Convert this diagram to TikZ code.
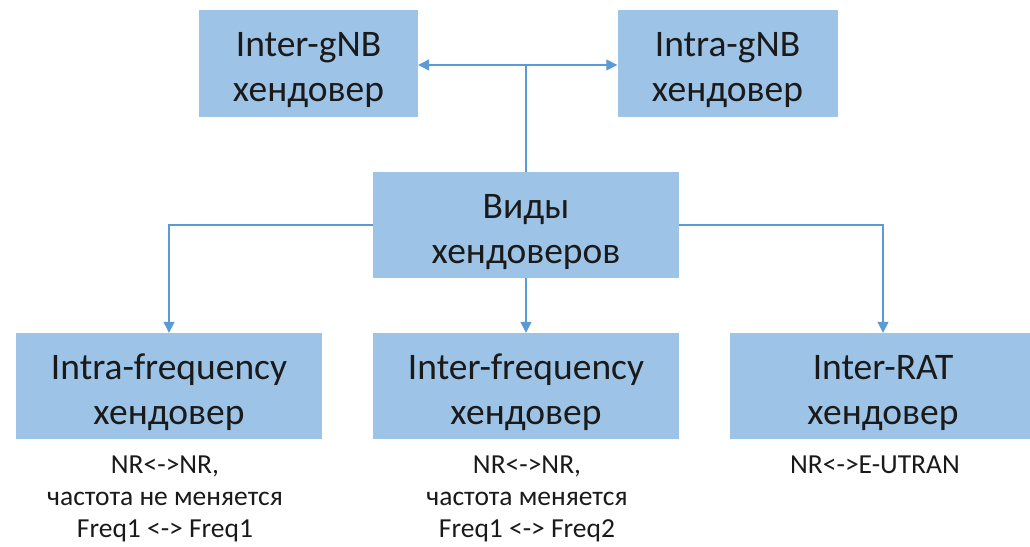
\documentclass[tikz,border=0pt]{standalone}
\usepackage{fontspec}
\setmainfont{Carlito}
\usetikzlibrary{arrows.meta}
\definecolor{boxblue}{HTML}{9DC3E6}
\definecolor{lineblue}{HTML}{5B9BD5}
\definecolor{ink}{HTML}{1A1A1A}
\newcommand{\boxstrut}{\rule{0pt}{38pt}}
\begin{document}
\begin{tikzpicture}[x=1pt,y=-1pt,
  box/.style={rectangle, fill=boxblue, draw=none, inner sep=0pt,
    minimum width=306pt, minimum height=106pt, align=center,
    font=\fontsize{37.5}{45}\selectfont, text=ink},
  note/.style={inner sep=0pt, anchor=north, align=center,
    font=\fontsize{27.5}{32}\selectfont, text=ink},
  link/.style={draw=lineblue, line width=1.3pt},
  tip/.style={-{Triangle[length=11pt,width=11pt]}}
]
\useasboundingbox (0,0) rectangle (1030,546);
\node[box, minimum width=219pt, minimum height=107pt] (intergnb) at (308.5,63.5) {\boxstrut Inter-gNB\\хендовер};
\node[box, minimum width=220pt, minimum height=107pt] (intragnb) at (727.5,63.5) {\boxstrut Intra-gNB\\хендовер};
\node[box] (types) at (526,225) {\boxstrut Виды\\хендоверов};
\node[box] (intraf) at (169,386) {\boxstrut Intra-frequency\\хендовер};
\node[box] (interf) at (526,386) {\boxstrut Inter-frequency\\хендовер};
\node[box] (interrat) at (883,386) {\boxstrut Inter-RAT\\хендовер};

\coordinate (j) at (526,65);
\draw[link] (types.north) -- (j);
\draw[link, tip] (j) -- (j -| intergnb.east);
\draw[link, tip] (j) -- (j -| intragnb.west);
\draw[link, tip] (types.west) -| (intraf.north);
\draw[link, tip] (types.south) -- (interf.north);
\draw[link, tip] (types.east) -| (interrat.north);

\node[note] (n1) at (165,456) {NR<->NR,\\частота не меняется\\Freq1 <-> Freq1};
\node[note] (n2) at (527,456) {NR<->NR,\\частота меняется\\Freq1 <-> Freq2};
\node[note] (n3) at (875,456) {NR<->E-UTRAN};
\end{tikzpicture}
\end{document}
